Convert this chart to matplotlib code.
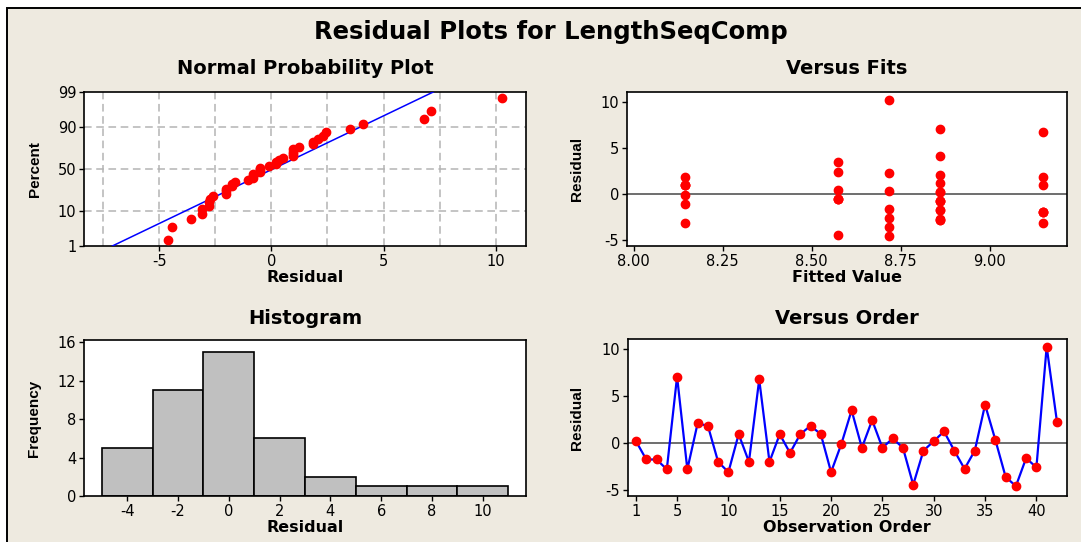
from statistics import NormalDist
import numpy as np
import matplotlib
matplotlib.use("Agg")
import matplotlib.pyplot as plt
from matplotlib.patches import Rectangle
from matplotlib.ticker import FixedLocator, NullLocator

# --- data ---
residuals = [0.2, -1.75, -1.75, -2.8, 7.1, -2.8, 2.1, 1.85, -2.0, -3.1,
             0.95, -2.0, 6.8, -2.0, 0.95, -1.05, 0.95, 1.85, 0.95, -3.1,
             -0.1, 3.5, -0.5, 2.45, -0.5, 0.5, -0.5, -4.45, -0.8, 0.2,
             1.25, -0.8, -2.75, -0.8, 4.1, 0.35, -3.6, -4.6, -1.6, -2.6,
             10.3, 2.3]
fitted = [8.859, 8.859, 8.859, 8.859, 8.859, 8.859, 8.859,
          9.150, 9.150, 8.143, 9.150, 9.150, 9.150, 9.150,
          8.143, 8.143, 8.143, 8.143, 8.143, 9.150, 8.143,
          8.575, 8.575, 8.575, 8.575, 8.575, 8.575, 8.575,
          8.859, 8.859, 8.859, 8.859, 8.859, 8.859, 8.859,
          8.717, 8.717, 8.717, 8.717, 8.717, 8.717, 8.717]
order = list(range(1, len(residuals) + 1))

pct_ticks = [1, 10, 50, 90, 99]
hist_edges = [-5, -3, -1, 1, 3, 5, 7, 9, 11]

W, H = 1081, 542
BG = "#eeeae0"
RED = "#ff0000"
BLUE = "#0000ff"

plt.rcParams["font.family"] = "DejaVu Sans"
plt.rcParams["axes.unicode_minus"] = False

fig = plt.figure(figsize=(W / 100, H / 100), dpi=100, facecolor="white")
fig.patches.append(Rectangle((7.5 / W, -0.1), 1.2, 1.1 - 7.5 / H, transform=fig.transFigure,
                             facecolor=BG, edgecolor="black", linewidth=1.4, zorder=-10))


def add_ax(l, t, r, b):
    ax = fig.add_axes([l / W, 1 - b / H, (r - l) / W, (b - t) / H])
    for s in ax.spines.values():
        s.set_linewidth(1.2)
    ax.tick_params(direction="out", length=3.5, width=1, labelsize=10.5, pad=2,
                   top=False, right=False)
    return ax


def ftext(x, y, s, **kw):
    fig.text(x / W, 1 - y / H, s, **kw)


title_kw = dict(ha="center", va="baseline", fontweight="bold", fontsize=14)
xlab_kw = dict(ha="center", va="baseline", fontweight="bold", fontsize=11.5)
# the rotated labels are set in a narrower face in the original
ylab_kw = dict(ha="center", va="center", rotation=90, fontweight="bold", fontsize=11,
               family=["Liberation Sans", "DejaVu Sans"])

ftext(551, 39.5, "Residual Plots for LengthSeqComp", ha="center", va="baseline",
      fontweight="bold", fontsize=17.5)

# --- Normal probability plot ---
nd = NormalDist()
fwd = np.vectorize(lambda p: nd.inv_cdf(min(max(p, 1e-9), 100 - 1e-9) / 100), otypes=[float])
inv = np.vectorize(lambda z: nd.cdf(z) * 100, otypes=[float])

ax1 = add_ax(84, 92, 526, 246)
ax1.set_yscale("function", functions=(fwd, inv))
r_sorted = np.sort(residuals)
n = len(r_sorted)
pct = (np.arange(1, n + 1) - 0.3) / (n + 0.4) * 100
mu, sd = np.mean(residuals), np.std(residuals, ddof=1)
line_pct = np.linspace(1, 99, 200)
ax1.plot(mu + sd * fwd(line_pct), line_pct, color=BLUE, lw=1.1, zorder=3)
ax1.plot(r_sorted, pct, "o", color=RED, ms=6, mec=RED, zorder=4)
for gx in [-7.5, -5, -2.5, 0, 2.5, 5, 7.5, 10]:
    ax1.axvline(gx, color="#b4b4b4", lw=1.1, ls=(0, (5, 3)), zorder=1)
for gy in [10, 50, 90]:
    ax1.axhline(gy, color="#b4b4b4", lw=1.1, ls=(0, (5, 3)), zorder=1)
ax1.set_xlim(-8.35, 11.35)
ax1.set_ylim(1, 99)
ax1.yaxis.set_major_locator(FixedLocator(pct_ticks))
ax1.yaxis.set_minor_locator(NullLocator())
ax1.set_yticklabels([str(p) for p in pct_ticks])
ax1.set_xticks([-5, 0, 5, 10])
ftext(305, 74, "Normal Probability Plot", **title_kw)
ftext(305, 282.5, "Residual", **xlab_kw)
ftext(34.5, 169, "Percent", **ylab_kw)

# --- Versus fits ---
ax2 = add_ax(627, 92, 1067, 246)
ax2.axhline(0, color="#555555", lw=1.2, zorder=1)
ax2.plot(fitted, residuals, "o", color=RED, ms=6, mec=RED, zorder=3)
ax2.set_xlim(7.981, 9.217)
ax2.set_ylim(-5.65, 11.12)
ax2.set_xticks([8.0, 8.25, 8.5, 8.75, 9.0])
ax2.set_xticklabels(["8.00", "8.25", "8.50", "8.75", "9.00"])
ax2.set_yticks([-5, 0, 5, 10])
ftext(847, 73.5, "Versus Fits", **title_kw)
ftext(847, 282.5, "Fitted Value", **xlab_kw)
ftext(577, 169, "Residual", **ylab_kw)

# --- Histogram ---
ax3 = add_ax(84, 340, 526, 496)
ax3.hist(residuals, bins=hist_edges, color="#c0c0c0", edgecolor="black", linewidth=1.2)
ax3.set_xlim(-5.7, 11.7)
ax3.set_ylim(0, 16.25)
ax3.set_xticks([-4, -2, 0, 2, 4, 6, 8, 10])
ax3.set_yticks([0, 4, 8, 12, 16])
ftext(305, 323.5, "Histogram", **title_kw)
ftext(305, 531.5, "Residual", **xlab_kw)
ftext(34.5, 418, "Frequency", **ylab_kw)

# --- Versus order ---
ax4 = add_ax(628, 339, 1067, 496)
ax4.axhline(0, color="#555555", lw=1.2, zorder=1)
ax4.plot(order, residuals, "-", color=BLUE, lw=1.6, zorder=2)
ax4.plot(order, residuals, "o", color=RED, ms=6, mec=RED, zorder=3)
ax4.set_xlim(0.22, 42.98)
ax4.set_ylim(-5.65, 11.12)
ax4.set_xticks([1, 5, 10, 15, 20, 25, 30, 35, 40])
ax4.set_yticks([-5, 0, 5, 10])
ftext(847, 323.5, "Versus Order", **title_kw)
ftext(847, 531.5, "Observation Order", **xlab_kw)
ftext(577, 418, "Residual", **ylab_kw)

fig.savefig("out.png", dpi=100, facecolor=fig.get_facecolor())
